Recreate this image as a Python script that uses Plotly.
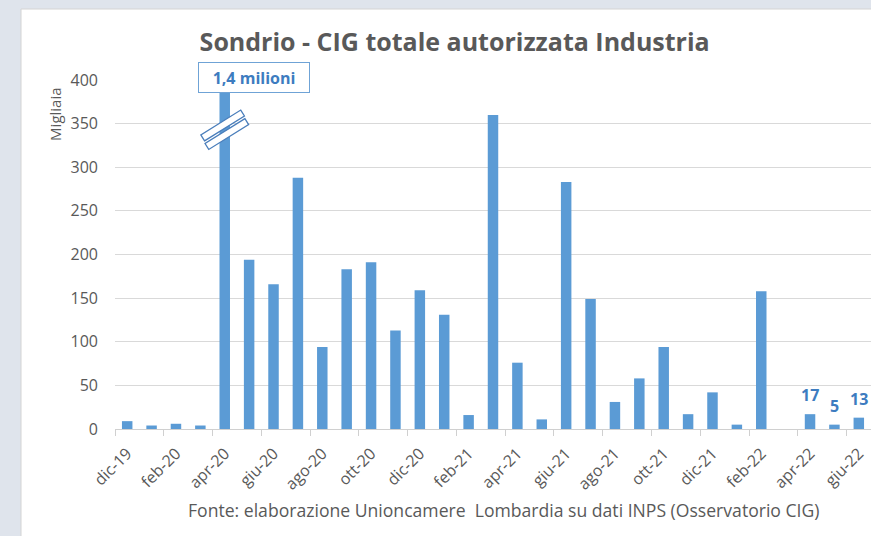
import plotly.graph_objects as go

months = ["dic-19", "gen-20", "feb-20", "mar-20", "apr-20", "mag-20", "giu-20", "lug-20",
          "ago-20", "set-20", "ott-20", "nov-20", "dic-20", "gen-21", "feb-21", "mar-21",
          "apr-21", "mag-21", "giu-21", "lug-21", "ago-21", "set-21", "ott-21", "nov-21",
          "dic-21", "gen-22", "feb-22", "mar-22", "apr-22", "mag-22", "giu-22"]
values = [9, 4, 6, 4, 1400, 194, 166, 288, 94, 183, 191, 113, 159, 131, 16, 360,
          76, 11, 283, 149, 31, 58, 94, 17, 42, 5, 158, None, 17, 5, 13]
labelled = ["apr-22", "mag-22", "giu-22"]
break_month = "apr-20"
break_note = "1,4 milioni"
y_ticks = [0, 50, 100, 150, 200, 250, 300, 350, 400]

title = "Sondrio - CIG totale autorizzata Industria"
y_title = "Migliaia"
source = "Fonte: elaborazione Unioncamere  Lombardia su dati INPS (Osservatorio CIG)"

FONT = "Open Sans"
GREY = "#595959"
BAR = "#5b9bd5"
LABEL = "#3d7cc0"

idx = list(range(len(months)))

fig = go.Figure()
fig.add_trace(go.Bar(x=idx, y=values, marker=dict(color=BAR, line=dict(width=0)),
                     hoverinfo="x+y"))

# value labels on the last bars
for m in labelled:
    i = months.index(m)
    fig.add_annotation(x=i, y=values[i], text="<b>%d</b>" % values[i], showarrow=False,
                       yshift=19, font=dict(family=FONT, size=16, color=LABEL))

# broken bar note
bi = months.index(break_month)
fig.add_annotation(x=bi, y=y_ticks[-1], text="<b>" + break_note + "</b>", showarrow=False,
                   xshift=29, yshift=3, width=104, height=23, borderpad=3,
                   bgcolor="white", bordercolor="#6fa3d6", borderwidth=1,
                   font=dict(family=FONT, size=16, color=LABEL))

# break symbol (two slanted white strips)
strip1 = "M -20.2 -11.1 L 19.7 13.8 L 16.0 19.7 L -23.9 -5.2 Z"
strip2 = "M 20.2 11.1 L -19.7 -13.8 L -16.0 -19.7 L 23.9 5.2 Z"
for p in (strip1, strip2):
    fig.add_shape(type="path", xref="x", yref="y", xsizemode="pixel", ysizemode="pixel",
                  xanchor=bi, yanchor=343, path=p, fillcolor="white",
                  line=dict(color="#4a7ebb", width=1.3), layer="above")

# panel background
fig.add_shape(type="rect", xref="paper", yref="paper", x0=-0.1243, x1=1.3, y0=-0.5, y1=1.2034,
              fillcolor="white", line=dict(color="#d4d4d4", width=1), layer="below")

# y-axis title and source
fig.add_annotation(xref="paper", yref="paper", x=0, y=0.90, xshift=-60, xanchor="center",
                   yanchor="middle", text=y_title, textangle=-90, showarrow=False,
                   font=dict(family=FONT, size=15, color=GREY))
fig.add_annotation(xref="paper", yref="paper", x=0.5146, y=-0.232, xanchor="center",
                   yanchor="middle", text=source, showarrow=False,
                   font=dict(family=FONT, size=17.6, color=GREY))

fig.update_layout(
    width=871, height=536,
    margin=dict(l=115, r=0, t=80, b=107),
    paper_bgcolor="#dfe4ec", plot_bgcolor="rgba(0,0,0,0)",
    bargap=0.57, showlegend=False,
    title=dict(text="<b>" + title + "</b>", x=0.522, xanchor="center", y=0.9216,
               yanchor="middle", font=dict(family=FONT, size=25, color=GREY)),
    xaxis=dict(range=[-0.5, 30.5], tickmode="array", tickvals=idx[::2],
               ticktext=months[::2], tickangle=-45, ticks="", showgrid=False,
               showline=True, linecolor="#d0d0d0", linewidth=1, zeroline=False,
               ticklabelstandoff=8,
               tickfont=dict(family=FONT, size=16, color=GREY),
               minor=dict(tickmode="array", tickvals=[i - 0.5 for i in idx[::2]],
                          ticks="outside", ticklen=6, tickcolor="#d0d0d0", showgrid=False)),
    yaxis=dict(range=[0, y_ticks[-1]], tickmode="array", tickvals=y_ticks, ticks="",
               showgrid=True, gridcolor="#d9d9d9", gridwidth=1, zeroline=False,
               showline=False, ticklabelstandoff=16,
               tickfont=dict(family=FONT, size=16, color=GREY)),
)

fig.write_html("out.html", config={"displayModeBar": False},
               post_script="document.body.style.margin='0';document.body.style.overflow='hidden';")
